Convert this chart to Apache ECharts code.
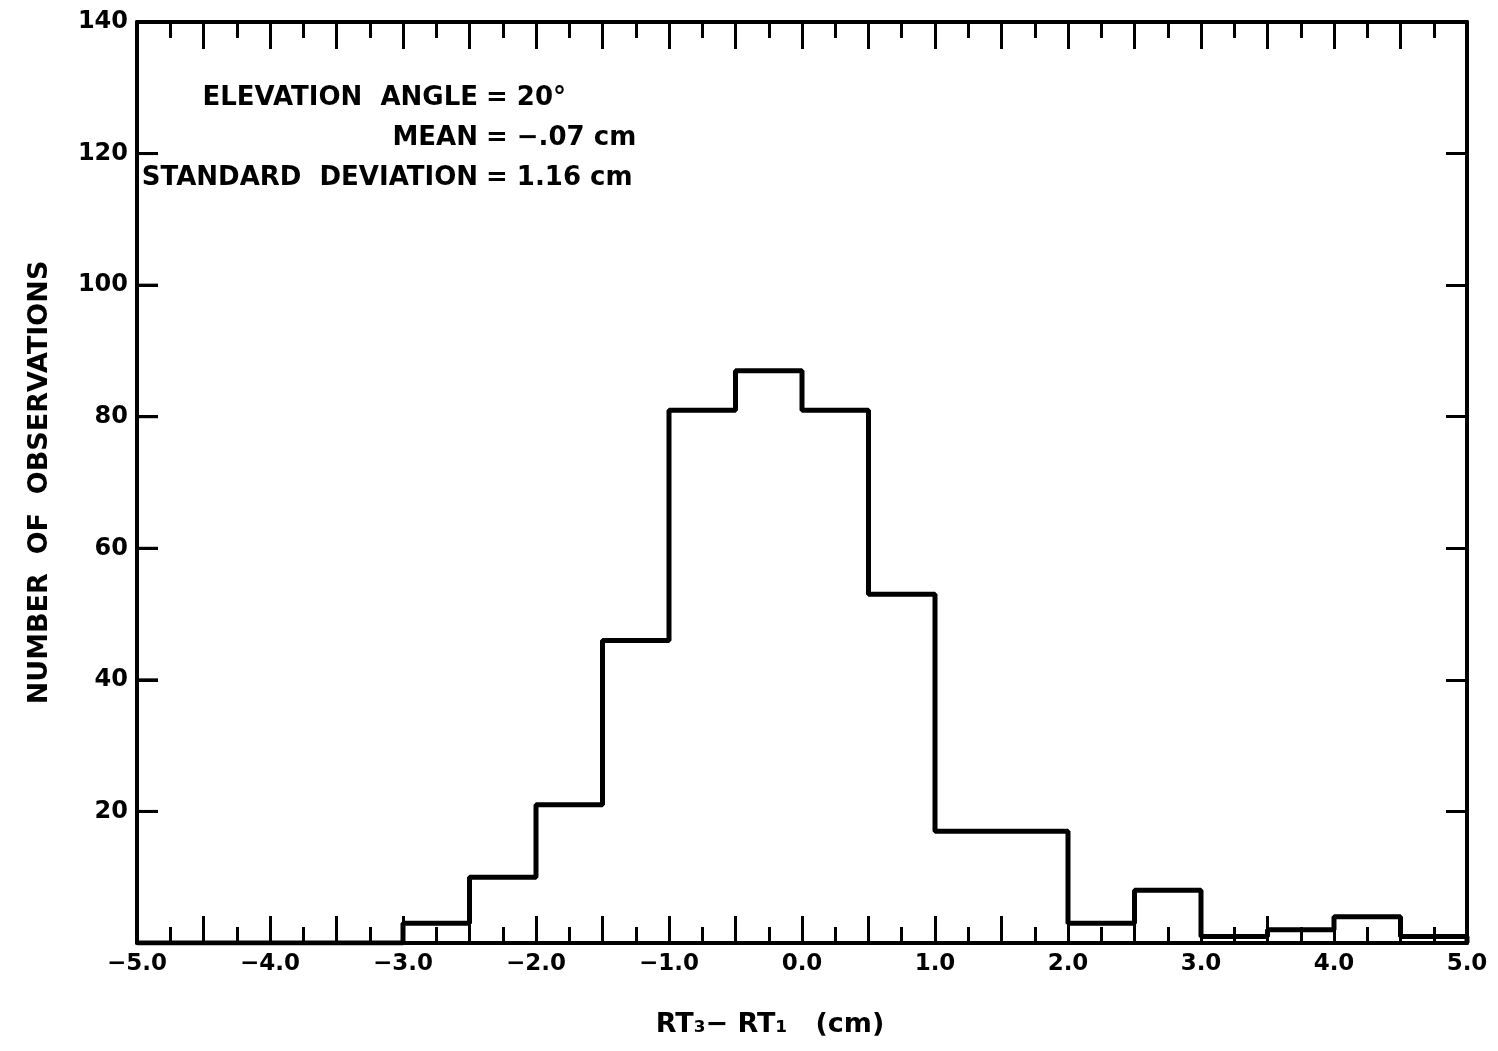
<!DOCTYPE html>
<html>
<head>
<meta charset="utf-8">
<script src="https://cdn.jsdelivr.net/npm/echarts@6/dist/echarts.min.js"></script>
<style>
html,body{margin:0;padding:0;background:#fff;}
#chart{width:1498px;height:1051px;}
</style>
</head>
<body>
<div id="chart"></div>
<script>
// Bin left edges (cm) and number of observations per 0.5 cm bin
const binEdges = [-5.0,-4.5,-4.0,-3.5,-3.0,-2.5,-2.0,-1.5,-1.0,-0.5,0.0,0.5,1.0,1.5,2.0,2.5,3.0,3.5,4.0,4.5];
const counts   = [0,0,0,0,3,10,21,46,81,87,81,53,17,17,3,8,1,2,4,1];
const binWidth = 0.5;
const yTicks = [20,40,60,80,100,120,140];
const annoLeft = ['ELEVATION  ANGLE', 'MEAN', 'STANDARD  DEVIATION'];
const annoRight = ['= 20°', '= −.07 cm', '= 1.16 cm'];
const xTitle = 'RT₃− RT₁   (cm)';
const yTitle = 'NUMBER  OF  OBSERVATIONS';

const stepData = binEdges.map((e, i) => [e, counts[i]]);
const lastEdge = binEdges[binEdges.length - 1] + binWidth;
stepData.push([lastEdge, counts[counts.length - 1]]);
stepData.push([lastEdge, 0]);

const FONT = 'DejaVu Sans';
const GRID = {left: 137, right: 31, top: 22, bottom: 108};
const chart = echarts.init(document.getElementById('chart'));
const axLine = () => ({show: true, onZero: false, lineStyle: {color: '#000', width: 4}});
const tickStyle = {color: '#000', width: 3};

const xAxisDef = (pos, labels) => ({
  type: 'value', min: -5, max: 5, interval: 0.5, position: pos,
  axisLine: axLine(),
  axisTick: {show: true, inside: true, length: 27, lineStyle: tickStyle},
  minorTick: {show: true, splitNumber: 2, length: 16, lineStyle: tickStyle},
  splitLine: {show: false},
  axisLabel: labels ? {show: true, margin: 10, color: '#000', fontFamily: FONT, fontWeight: 'bold', fontSize: 23,
    formatter: v => (Math.abs(v % 1) < 1e-9 ? (v < 0 ? '−' + Math.abs(v).toFixed(1) : v.toFixed(1)) : '')} : {show: false}
});
const yBase = (pos) => ({
  type: 'value', min: 0, max: 140, interval: 20, position: pos,
  splitLine: {show: false}
});

const textGraphics = [];
const annoY = [98, 138, 178];
annoLeft.forEach((t, i) => {
  textGraphics.push({type: 'text', x: 478, y: annoY[i],
    style: {text: t, x: 0, y: 0, textAlign: 'right', textVerticalAlign: 'middle', align: 'right', verticalAlign: 'middle',
      font: 'bold 26px "' + FONT + '"', fill: '#000'}});
  textGraphics.push({type: 'text', x: 486, y: annoY[i],
    style: {text: annoRight[i], x: 0, y: 0, textAlign: 'left', textVerticalAlign: 'middle', align: 'left', verticalAlign: 'middle',
      font: 'bold 26px "' + FONT + '"', fill: '#000'}});
});
textGraphics.push({type: 'text', x: 770, y: 1025,
  style: {text: xTitle, x: 0, y: 0, textAlign: 'center', textVerticalAlign: 'middle', align: 'center', verticalAlign: 'middle',
    font: 'bold 27px "' + FONT + '"', fill: '#000'}});

chart.setOption({
  animation: false,
  backgroundColor: '#fff',
  grid: Object.assign({containLabel: false}, GRID),
  xAxis: [xAxisDef('bottom', true), xAxisDef('top', false)],
  yAxis: [
    Object.assign(yBase('left'), {
      axisLine: axLine(),
      axisTick: {show: true, inside: true, length: 21, lineStyle: tickStyle},
      name: yTitle, nameLocation: 'middle', nameGap: 84, nameRotate: 90,
      nameTextStyle: {color: '#000', fontFamily: FONT, fontWeight: 'bold', fontSize: 27},
      axisLabel: {show: true, margin: 9, color: '#000', fontFamily: FONT, fontWeight: 'bold', fontSize: 24,
        formatter: v => (yTicks.indexOf(v) >= 0 ? String(v) : '')}
    }),
    Object.assign(yBase('right'), {
      axisLine: axLine(),
      axisTick: {show: true, inside: true, length: 21, lineStyle: tickStyle},
      axisLabel: {show: false}
    })
  ],
  series: [{
    type: 'line', xAxisIndex: 0, yAxisIndex: 0,
    step: 'end', data: stepData, symbol: 'none',
    lineStyle: {color: '#000', width: 5}, silent: true
  }],
  graphic: textGraphics
});

// Inward tick marks along the left frame, positioned through the library's own y scale
const leftX = chart.convertToPixel({xAxisIndex: 0}, -5);
const tickGraphics = yTicks.map(v => {
  const py = chart.convertToPixel({yAxisIndex: 0}, v);
  return {type: 'line', z: 100,
    shape: {x1: leftX, y1: py, x2: leftX + 21, y2: py},
    style: {stroke: '#000', lineWidth: 3}};
});
chart.setOption({graphic: textGraphics.concat(tickGraphics)});
</script>
</body>
</html>
